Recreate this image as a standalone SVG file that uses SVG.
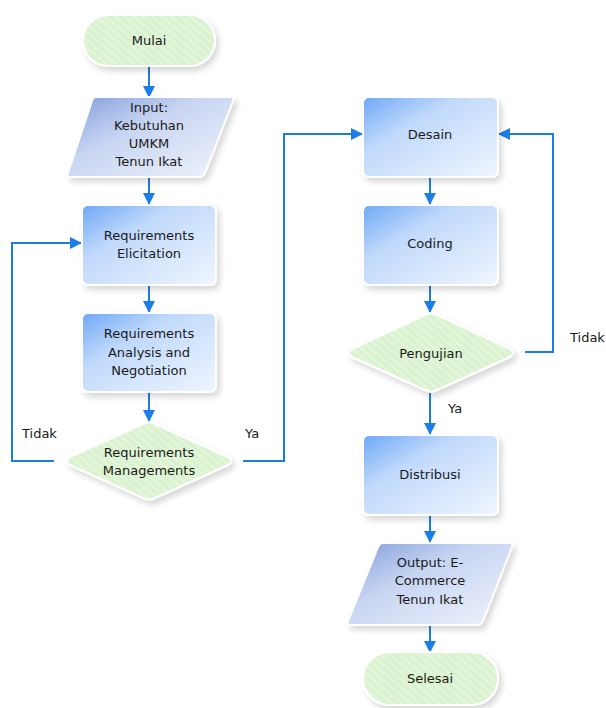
<svg xmlns="http://www.w3.org/2000/svg" width="606" height="708" viewBox="0 0 606 708">
<defs>
<linearGradient id="gProc" x1="0" y1="0" x2="1" y2="1">
<stop offset="0" stop-color="#6ea8f6"/>
<stop offset="0.35" stop-color="#c0d9fb"/>
<stop offset="1" stop-color="#f0f6ff"/>
</linearGradient>
<linearGradient id="gIO" x1="0" y1="0" x2="1" y2="1">
<stop offset="0" stop-color="#7f9dd9"/>
<stop offset="0.4" stop-color="#c8d5f2"/>
<stop offset="1" stop-color="#f0f4fc"/>
</linearGradient>
<pattern id="gGreen" patternUnits="userSpaceOnUse" width="6" height="6" patternTransform="rotate(-50)">
<rect width="6" height="6" fill="#daf2cf"/>
<rect width="2.5" height="6" fill="#e3f6da"/>
</pattern>
<filter id="sh" x="-20%" y="-20%" width="150%" height="150%">
<feGaussianBlur in="SourceAlpha" stdDeviation="3"/>
<feOffset dx="3" dy="4"/>
<feComponentTransfer><feFuncA type="linear" slope="0.16"/></feComponentTransfer>
<feMerge><feMergeNode/><feMergeNode in="SourceGraphic"/></feMerge>
</filter>
<marker id="arr" markerWidth="12" markerHeight="12" refX="11" refY="6" orient="auto" markerUnits="userSpaceOnUse">
<path d="M0,0 L12,6 L0,12 z" fill="#1a7ee6"/>
</marker>
<style>
.t{font-family:"DejaVu Sans","Liberation Sans",sans-serif;font-size:13px;fill:#1a1a1a;text-anchor:middle}
.l{font-family:"DejaVu Sans","Liberation Sans",sans-serif;font-size:13px;fill:#1a1a1a}
.proc{fill:url(#gProc);stroke:#ffffff;stroke-width:2;filter:url(#sh)}
.io{fill:url(#gIO);stroke:#ffffff;stroke-width:2;stroke-linejoin:round;filter:url(#sh)}
.gr{fill:url(#gGreen);stroke:#ffffff;stroke-width:2;stroke-linejoin:round;filter:url(#sh)}
.c{fill:none;stroke:#1a7ee6;stroke-width:2;marker-end:url(#arr)}
</style>
</defs>
<g id="connectors">
<line class="c" x1="149" y1="67" x2="149" y2="97"/>
<line class="c" x1="149" y1="178" x2="149" y2="204"/>
<line class="c" x1="149" y1="286" x2="149" y2="312"/>
<line class="c" x1="149" y1="393" x2="149" y2="421"/>
<polyline class="c" points="54,461 12,461 12,243 81,243"/>
<polyline class="c" points="243,461 284,461 284,134 362,134"/>
<line class="c" x1="430" y1="178" x2="430" y2="204"/>
<line class="c" x1="430" y1="286" x2="430" y2="312"/>
<polyline class="c" points="525,352 553,352 553,134 499,134"/>
<line class="c" x1="430" y1="393" x2="430" y2="434"/>
<line class="c" x1="430" y1="516" x2="430" y2="542"/>
<line class="c" x1="430" y1="626" x2="430" y2="652"/>
<text class="l" x="22" y="438">Tidak</text>
<text class="l" x="245" y="438">Ya</text>
<text class="l" x="570" y="342">Tidak</text>
<text class="l" x="448" y="413">Ya</text>
</g>
<g id="mulai">
<rect class="gr" x="83" y="15" width="132" height="51" rx="25.5"/>
<text class="t" x="149" y="45">Mulai</text>
</g>
<g id="input">
<path class="io" d="M96,97 L231,97 Q235,97 233,101 L205,173 Q203,177 199,177 L70,177 Q66,177 68,173 L92,101 Q93,97 96,97 z"/>
<text class="t" x="149" y="112">Input:</text>
<text class="t" x="149" y="130">Kebutuhan</text>
<text class="t" x="149" y="148">UMKM</text>
<text class="t" x="149" y="166">Tenun Ikat</text>
</g>
<g id="elicitation">
<rect class="proc" x="82" y="205" width="134" height="80" rx="6"/>
<text class="t" x="149" y="240">Requirements</text>
<text class="t" x="149" y="258">Elicitation</text>
</g>
<g id="analysis">
<rect class="proc" x="82" y="313" width="134" height="79" rx="6"/>
<text class="t" x="149" y="338">Requirements</text>
<text class="t" x="149" y="357">Analysis and</text>
<text class="t" x="149" y="375">Negotiation</text>
</g>
<g id="management">
<path class="gr" d="M143,424 Q149,421 155,424 L228,457 Q234,461 228,465 L155,498 Q149,501 143,498 L70,465 Q64,461 70,457 z"/>
<text class="t" x="149" y="457">Requirements</text>
<text class="t" x="149" y="475">Managements</text>
</g>
<g id="desain">
<rect class="proc" x="363" y="97" width="135" height="80" rx="6"/>
<text class="t" x="430" y="139">Desain</text>
</g>
<g id="coding">
<rect class="proc" x="363" y="205" width="135" height="80" rx="6"/>
<text class="t" x="430" y="248">Coding</text>
</g>
<g id="pengujian">
<path class="gr" d="M425,315 Q431,312 437,315 L510,349 Q516,353 510,357 L437,390 Q431,393 425,390 L352,357 Q346,353 352,349 z"/>
<text class="t" x="431" y="358">Pengujian</text>
</g>
<g id="distribusi">
<rect class="proc" x="363" y="435" width="135" height="80" rx="6"/>
<text class="t" x="430" y="479">Distribusi</text>
</g>
<g id="output">
<path class="io" d="M383,543 L509,543 Q514,543 512,547 L483,621 Q481,625 477,625 L351,625 Q346,625 348,621 L378,547 Q380,543 383,543 z"/>
<text class="t" x="430" y="567">Output: E-</text>
<text class="t" x="430" y="585">Commerce</text>
<text class="t" x="430" y="604">Tenun Ikat</text>
</g>
<g id="selesai">
<rect class="gr" x="363" y="652" width="135" height="53" rx="26.5"/>
<text class="t" x="430" y="683">Selesai</text>
</g>
</svg>
